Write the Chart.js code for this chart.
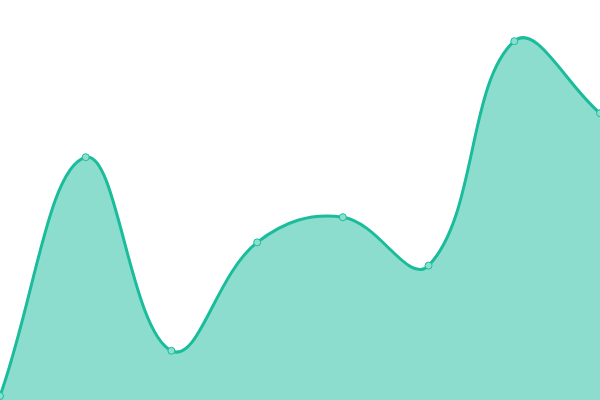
<!DOCTYPE html>
<html>
<head>
<meta charset="utf-8">
<script src="https://cdn.jsdelivr.net/npm/chart.js@4/dist/chart.umd.min.js"></script>
<style>
  html, body { margin: 0; padding: 0; background: #ffffff; }
  #wrap { width: 600px; height: 400px; }
</style>
</head>
<body>
<div id="wrap"><canvas id="area"></canvas></div>
<script>
const labels = ["1", "2", "3", "4", "5", "6", "7", "8"];
const values = [1, 60.7, 12.3, 39.4, 45.7, 33.6, 89.7, 71.7];
const yMin = 0;
const yMax = 100;

const data = {
  labels: labels,
  datasets: [
    {
      data: values,
      borderColor: "#1abc9c",
      backgroundColor: "rgba(26, 188, 156, 0.5)",
      borderWidth: 3,
      fill: "origin",
      tension: 0.4,
      pointRadius: 3.5,
      pointBorderWidth: 1,
      pointBackgroundColor: "#8cdece",
      pointBorderColor: "#1abc9c",
    },
  ],
};

const config = {
  type: "line",
  data: data,
  options: {
    responsive: true,
    maintainAspectRatio: false,
    animation: false,
    layout: { padding: 0, autoPadding: false },
    plugins: {
      legend: { display: false },
      tooltip: { enabled: false },
    },
    scales: {
      x: { display: false },
      y: { display: false, min: yMin, max: yMax },
    },
  },
};

new Chart(document.getElementById("area"), config);
</script>
</body>
</html>
